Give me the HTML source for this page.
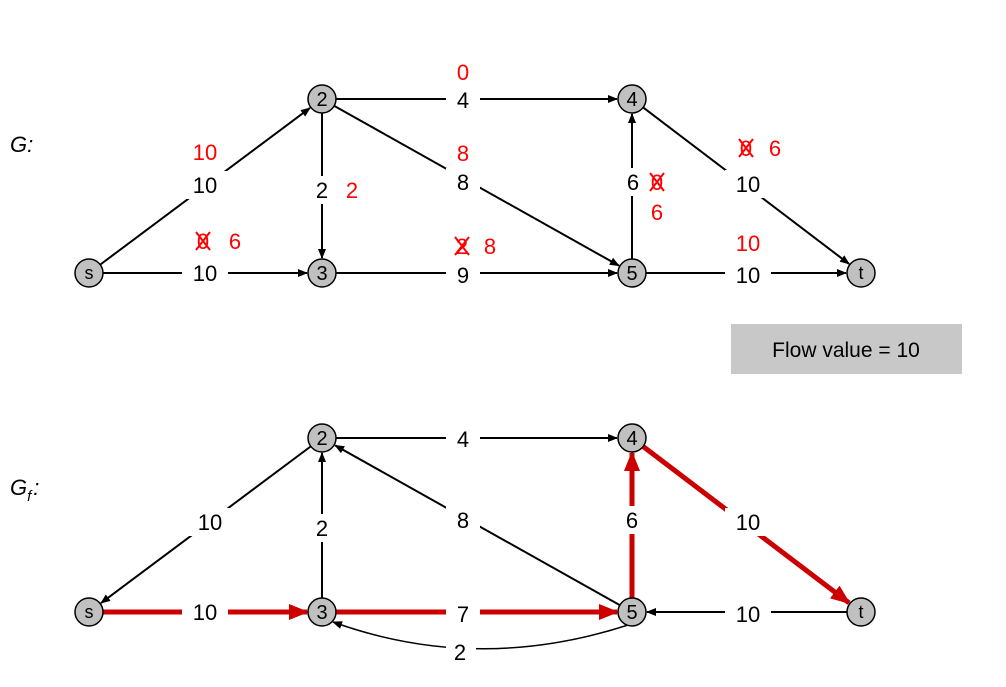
<!DOCTYPE html>
<html><head><meta charset="utf-8"><style>
html,body{margin:0;padding:0;background:#fff}
svg{display:block;font-family:"Liberation Sans",sans-serif}
</style></head><body>
<svg id="c" width="1006" height="687" viewBox="0 0 1006 687">
<defs>
<marker id="ak" markerWidth="10" markerHeight="8" refX="9" refY="4" orient="auto" markerUnits="userSpaceOnUse"><path d="M0,0 L10,4 L0,8 z" fill="#000"/></marker>
<marker id="ar" markerWidth="20" markerHeight="16" refX="18" refY="8" orient="auto" markerUnits="userSpaceOnUse"><path d="M0,0 L20,8 L0,16 z" fill="#c00"/></marker>
</defs>
<text x="10" y="152" font-size="22" font-style="italic">G:</text>
<text x="10" y="495" font-size="22" font-style="italic">G<tspan font-size="15" dy="6">f</tspan><tspan dy="-6" dx="2">:</tspan></text>
<rect x="731" y="324" width="231" height="50" fill="#c8c8c8"/>
<text x="846" y="357" font-size="21" text-anchor="middle">Flow value = 10</text>
<g id="edges"></g><g id="nodes"></g><g id="labels"></g>
</svg>
<script>
const nodeNames=["s","2","3","4","5","t"];
const nodeX=[89,322,322,632,632,861];
const nodeY=[273,99,273,99,273,273];
const offsetGf=339;
const gFrom=["s","s","2","2","2","3","5","4","5"];
const gTo=["2","3","3","4","5","5","4","t","t"];
const gCap=["10","10","2","4","8","9","6","10","10"];
const gLx=[205,205,322,463,463,463,633,748,748];
const gLy=[185,273,190,100,182,275,182,184,275];
const fText=["10","0","6","2","0","8","2","8","0","6","0","6","10"];
const fCross=[0,1,0,0,0,0,1,0,1,0,1,0,0];
const fX=[205,203,235,352,463,463,462,490,657,657,746,775,748];
const fY=[152,241,241,190,72,153,246,246,182,212,148,148,243];
const rFrom=["2","3","5","5","4","t","s","3","2"];
const rTo=["s","2","2","4","t","5","3","5","4"];
const rCap=["10","2","8","6","10","10","10","7","4"];
const rRed=[0,0,0,1,1,0,1,1,0];
const rLx=[210,322,463,632,748,748,205,463,463];
const rLy=[522,528,520,520,522,614,612,614,439];
const NS="http://www.w3.org/2000/svg";
const R=14;
function mk(t,a,p){const e=document.createElementNS(NS,t);for(const k in a)e.setAttribute(k,a[k]);document.getElementById(p).appendChild(e);return e;}
function pos(n,dy){const i=nodeNames.indexOf(n);return [nodeX[i],nodeY[i]+dy];}
function edge(a,b,dy,red,lx,ly,txt){
  const [x1,y1]=pos(a,dy),[x2,y2]=pos(b,dy);
  const dx=x2-x1,dyy=y2-y1,L=Math.hypot(dx,dyy),ux=dx/L,uy=dyy/L;
  const l=mk("line",{x1:x1+ux*R,y1:y1+uy*R,x2:x2-ux*(R+1),y2:y2-uy*(R+1),stroke:red?"#c00":"#000","stroke-width":red?5:2,"marker-end":red?"url(#ar)":"url(#ak)"},"edges");
  
  
  const w=txt.length*12+22;
  const bg=mk("rect",{x:lx-w/2,y:ly-14,width:w,height:28,fill:"#fff"},"labels");
  
  
  const t=mk("text",{x:lx,y:ly+8,"font-size":22,"text-anchor":"middle"},"labels");
  t.textContent=txt;
  
  
}
for(let i=0;i<gFrom.length;i++)edge(gFrom[i],gTo[i],0,0,gLx[i],gLy[i],gCap[i]);
for(let i=0;i<rFrom.length;i++)edge(rFrom[i],rTo[i],offsetGf,rRed[i],rLx[i],rLy[i],rCap[i]);
{const [x5,y5]=pos("5",offsetGf),[x3,y3]=pos("3",offsetGf);
 const p=mk("path",{d:`M${x5-4},${y5+13} Q${(x5+x3)/2},${y5+62} ${x3+11},${y3+10}`,fill:"none",stroke:"#000","stroke-width":1.5,"marker-end":"url(#ak)"},"edges");
 
 
 const bg=mk("rect",{x:446,y:638,width:30,height:28,fill:"#fff"},"labels");
 
 
 const t=mk("text",{x:460,y:660,"font-size":22,"text-anchor":"middle"},"labels");
 t.textContent="2";
 
 }
for(let i=0;i<fText.length;i++){
  const t=mk("text",{x:fX[i],y:fY[i]+8,"font-size":22,"text-anchor":"middle",fill:"#f00"},"labels");
  t.textContent=fText[i];
  
  
  if(fCross[i]){
    const x=mk("path",{d:`M${fX[i]-7},${fY[i]-9} L${fX[i]+7},${fY[i]+9} M${fX[i]+7},${fY[i]-9} L${fX[i]-7},${fY[i]+9}`,stroke:"#f00","stroke-width":2},"labels");
    
    
  }
}
for(const dy of [0,offsetGf]){
  for(let i=0;i<nodeNames.length;i++){
    const c=mk("circle",{cx:nodeX[i],cy:nodeY[i]+dy,r:R,fill:"#c0c0c0",stroke:"#000","stroke-width":1.5},"nodes");
    
    
    const st=/[st]/.test(nodeNames[i]);
    const t=mk("text",{x:nodeX[i],y:nodeY[i]+dy+(st?6:7),"font-size":st?18:20,"text-anchor":"middle"},"nodes");
    t.textContent=nodeNames[i];
    
    
  }
}
</script>
</body></html>
